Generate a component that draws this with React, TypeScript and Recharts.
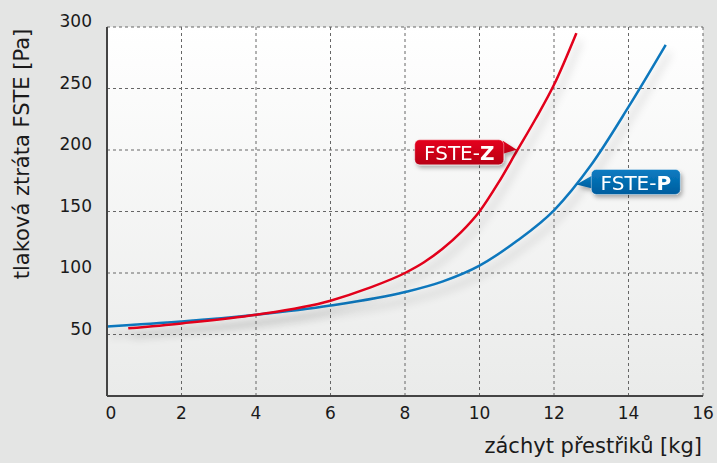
import React from 'react';
import { LineChart, Line, XAxis, YAxis, CartesianGrid, ReferenceDot, Label } from 'recharts';

// FSTE-Z (red)
const zetX = [0.57, 2, 4, 6, 7, 8, 8.5, 9, 9.5, 10, 10.5, 11, 11.5, 12, 12.6];
const zetY = [55, 59, 66, 77.5, 87.5, 100, 108.5, 119.5, 133, 150, 173, 199, 225, 253, 295];
// FSTE-P (blue)
const peX = [0, 2, 4, 6, 8, 9, 10, 11, 12, 13, 14, 15];
const peY = [56.5, 60.5, 66, 73.5, 84.5, 93, 106, 126, 151, 188, 235, 285.5];

const xTicks = [0, 2, 4, 6, 8, 10, 12, 14, 16];
const yTicks = [50, 100, 150, 200, 250, 300];

const zetLabelAt = { x: 11, y: 201 };
const peLabelAt = { x: 12.6, y: 172 };

const zetData = zetX.map((x, i) => ({ x, v: zetY[i] }));
const peData = peX.map((x, i) => ({ x, v: peY[i] }));

const FONT = '"DejaVu Sans", Verdana, sans-serif';
const RED = '#e2001a';
const BLUE = '#0a77bd';

function YTick({ x, y, payload }: any) {
  return (
    <text x={x - 7} y={y - 6} textAnchor="end" dominantBaseline="central" fontSize={17} fill="#1a1a1a" fontFamily={FONT}>
      {payload.value}
    </text>
  );
}

function XTick({ x, y, payload }: any) {
  const shift = payload.value === 0 ? 4 : 0;
  return (
    <text x={x + shift} y={y + 9} textAnchor="middle" dominantBaseline="central" fontSize={17} fill="#1a1a1a" fontFamily={FONT}>
      {payload.value}
    </text>
  );
}

// callout box with a pointer to the curve
function Callout({ cx, cy, side, name, bold, grad }: any) {
  const w = 89;
  const h = 25;
  let bx: number, by: number, tri: string;
  if (side === 'left') {
    bx = cx - 13 - w;
    by = cy - 9;
    tri = `${bx + w - 1},${by + 1} ${cx},${cy + 1} ${bx + w - 1},${by + 14}`;
  } else {
    bx = cx + 15;
    by = cy - 15;
    tri = `${bx + 1},${by + 6} ${cx},${cy} ${bx + 1},${by + 19}`;
  }
  return (
    <g filter="url(#boxShadow)">
      <polygon points={tri} fill={`url(#${grad})`} />
      <rect x={bx} y={by} width={w} height={h} rx={5} fill={`url(#${grad})`} stroke="rgba(255,255,255,0.5)" strokeWidth={0.8} />
      <text x={bx + w / 2} y={by + h / 2 + 1} textAnchor="middle" dominantBaseline="central" fontSize={20} fill="#fff" fontFamily={FONT}>
        {name}
        <tspan fontWeight="bold">{bold}</tspan>
      </text>
    </g>
  );
}

export default function App() {
  return (
    <div style={{ position: 'absolute', left: 0, top: 0, width: 717, height: 463, background: '#e4e5e4', fontFamily: FONT }}>
      <LineChart width={717} height={463} margin={{ top: 27, right: 14, bottom: 0, left: 0 }}>
        <defs>
          <linearGradient id="plotBg" x1="0" y1="0" x2="0" y2="1">
            <stop offset="0%" stopColor="#ffffff" />
            <stop offset="100%" stopColor="#eaebea" />
          </linearGradient>
          <linearGradient id="redBox" x1="0" y1="0" x2="0" y2="1">
            <stop offset="0%" stopColor="#e5001c" />
            <stop offset="100%" stopColor="#b80016" />
          </linearGradient>
          <linearGradient id="blueBox" x1="0" y1="0" x2="0" y2="1">
            <stop offset="0%" stopColor="#0a7cc2" />
            <stop offset="100%" stopColor="#005d9e" />
          </linearGradient>
          <filter id="lineShadow" filterUnits="userSpaceOnUse" x="0" y="0" width="717" height="463">
            <feDropShadow dx="4" dy="8" stdDeviation="4" floodColor="#000" floodOpacity="0.22" />
          </filter>
          <filter id="boxShadow" filterUnits="userSpaceOnUse" x="0" y="0" width="717" height="463">
            <feDropShadow dx="2" dy="3" stdDeviation="2" floodColor="#000" floodOpacity="0.3" />
          </filter>
        </defs>
        <CartesianGrid stroke="#666" strokeDasharray="3 3" fill="url(#plotBg)" fillOpacity={1} />
        <XAxis
          type="number"
          dataKey="x"
          domain={[0, 16]}
          ticks={xTicks}
          allowDataOverflow
          height={67}
          tickLine={false}
          axisLine={{ stroke: '#444', strokeWidth: 2 }}
          tick={<XTick />}
        >
          <Label
            content={() => (
              <text x={702} y={446} textAnchor="end" dominantBaseline="central" fontSize={21} fill="#1a1a1a" fontFamily={FONT}>
                záchyt přestřiků [kg]
              </text>
            )}
          />
        </XAxis>
        <YAxis
          type="number"
          domain={[0, 300]}
          ticks={yTicks}
          width={107}
          tickLine={false}
          axisLine={{ stroke: '#444', strokeWidth: 2 }}
          tick={<YTick />}
        >
          <Label
            content={() => (
              <text x={22} y={154} transform="rotate(-90 22 154)" textAnchor="middle" dominantBaseline="central" fontSize={21} fill="#1a1a1a" fontFamily={FONT}>
                tlaková ztráta FSTE [Pa]
              </text>
            )}
          />
        </YAxis>
        <Line
          data={peData}
          dataKey="v"
          type="monotone"
          stroke={BLUE}
          strokeWidth={2.5}
          dot={false}
          activeDot={false}
          filter="url(#lineShadow)"
          isAnimationActive={false}
        />
        <Line
          data={zetData}
          dataKey="v"
          type="monotone"
          stroke={RED}
          strokeWidth={2.5}
          dot={false}
          activeDot={false}
          filter="url(#lineShadow)"
          isAnimationActive={false}
        />
        <ReferenceDot
          x={zetLabelAt.x}
          y={zetLabelAt.y}
          shape={(p: any) => <Callout cx={p.cx} cy={p.cy} side="left" name="FSTE-" bold="Z" grad="redBox" />}
        />
        <ReferenceDot
          x={peLabelAt.x}
          y={peLabelAt.y}
          shape={(p: any) => <Callout cx={p.cx} cy={p.cy} side="right" name="FSTE-" bold="P" grad="blueBox" />}
        />
      </LineChart>
    </div>
  );
}
